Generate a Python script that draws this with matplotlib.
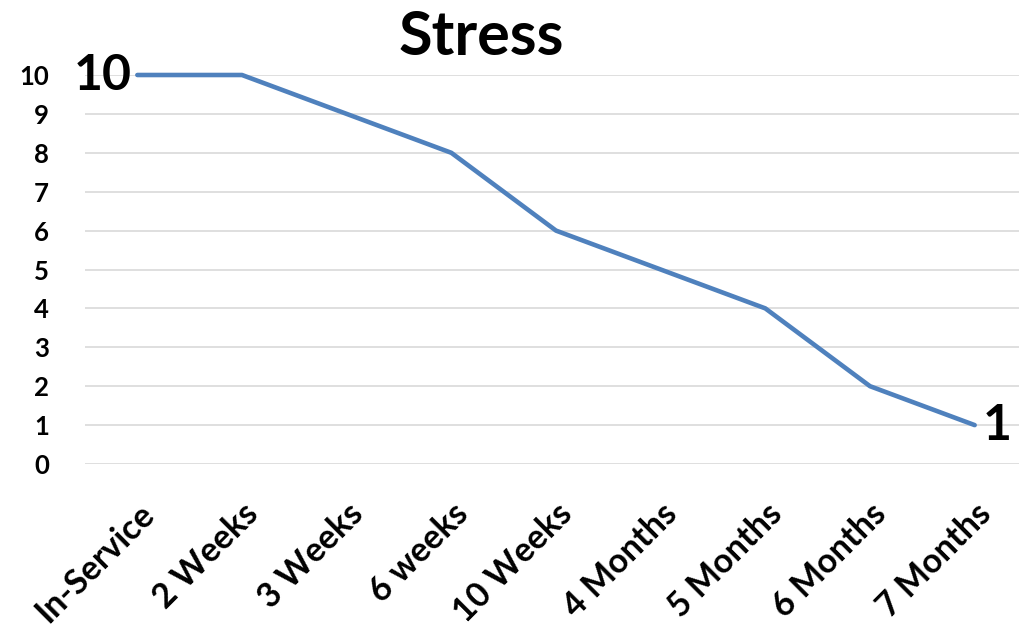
import matplotlib
matplotlib.use("Agg")
import matplotlib.pyplot as plt

categories = ["In-Service", "2 Weeks", "3 Weeks", "6 weeks", "10 Weeks",
              "4 Months", "5 Months", "6 Months", "7 Months"]
stress = [10, 10, 9, 8, 6, 5, 4, 2, 1]
y_ticks = list(range(0, 11))

plt.rcParams['font.family'] = ['Lato', 'DejaVu Sans']
plt.rcParams['font.weight'] = 'bold'

fig = plt.figure(figsize=(10.2, 6.38), dpi=100)
ax = fig.add_axes([85/1020, (638-464)/638, 942/1020, 389/638])

x = list(range(len(categories)))
ax.plot(x, stress, color='#4F81BD', linewidth=3.3, clip_on=False, zorder=3,
        solid_joinstyle='round', solid_capstyle='round')

ax.set_xlim(-0.5, len(categories) - 0.5)
ax.set_ylim(0, 10)
ax.set_yticks(y_ticks)
ax.set_yticklabels([str(v) for v in y_ticks], fontsize=18.5, fontweight='bold')
ax.set_xticks(x)
ax.set_xticklabels(categories, rotation=45, ha='right', rotation_mode='anchor',
                   fontsize=24.5, fontweight='bold')
ax.tick_params(axis='both', length=0)
ax.tick_params(axis='y', pad=26)
ax.tick_params(axis='x', pad=24)
ax.grid(axis='y', color='#D9D9D9', linewidth=1.2)
ax.set_axisbelow(True)
for s in ax.spines.values():
    s.set_visible(False)

ax.annotate(str(stress[0]), (x[0], stress[0]), xytext=(-4, 0), textcoords='offset points',
            ha='right', va='center', fontsize=36, fontweight='bold')
ax.annotate(str(stress[-1]), (x[-1], stress[-1]), xytext=(6, 0), textcoords='offset points',
            ha='left', va='center', fontsize=36, fontweight='bold')

fig.text(481/1020, 1 - 37/638, "Stress", ha='center', va='center', fontsize=44, fontweight='bold')

fig.savefig("out.png", dpi=100)
